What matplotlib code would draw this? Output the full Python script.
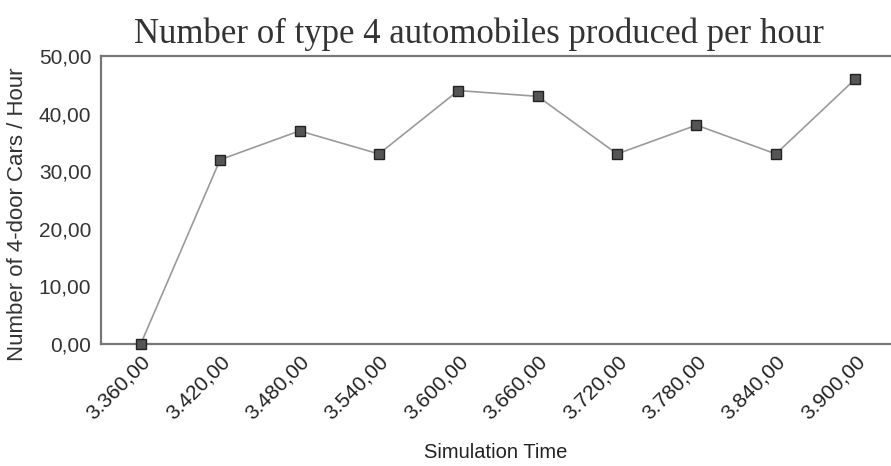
import matplotlib.pyplot as plt

# simulation time (x) and 4-door cars per hour (y)
sim_time = [3360, 3420, 3480, 3540, 3600, 3660, 3720, 3780, 3840, 3900]
cars_per_hour = [0, 32, 37, 33, 44, 43, 33, 38, 33, 46]
x_labels = ["3.360,00", "3.420,00", "3.480,00", "3.540,00", "3.600,00",
            "3.660,00", "3.720,00", "3.780,00", "3.840,00", "3.900,00"]
y_ticks = [0, 10, 20, 30, 40, 50]
y_labels = ["0,00", "10,00", "20,00", "30,00", "40,00", "50,00"]

fig = plt.figure(figsize=(8.91, 4.66), dpi=100)
ax = fig.add_axes([0.1134, 0.2618, 0.8866, 0.618])

ax.plot(sim_time, cars_per_hour, color="#9a9a9a", linewidth=1.2,
        marker="s", markersize=7.5, markerfacecolor="#555555",
        markeredgecolor="#222222", markeredgewidth=1.0, clip_on=False, zorder=3)

ax.set_xlim(3330, 3927)
ax.set_ylim(0, 50)
ax.set_xticks(sim_time)
ax.set_xticklabels(x_labels, rotation=45, ha="right", rotation_mode="anchor",
                   family="Liberation Sans", fontsize=15, color="#222222")
ax.set_yticks(y_ticks)
ax.set_yticklabels(y_labels, family="Liberation Sans", fontsize=15, color="#333333")
ax.tick_params(axis="both", length=0)
ax.tick_params(axis="y", pad=7)
ax.tick_params(axis="x", pad=6)

for side in ["left", "top", "bottom"]:
    ax.spines[side].set_color("#777777")
    ax.spines[side].set_linewidth(1.6)
ax.spines["right"].set_visible(False)

ax.set_ylabel("Number of 4-door Cars / Hour", family="Liberation Sans",
              fontsize=16, color="#333333")
ax.yaxis.set_label_coords(-0.092, 0.45)
ax.set_xlabel("Simulation Time", family="Liberation Sans", fontsize=14.5,
              color="#222222", labelpad=14)

fig.text(0.537, 0.926, "Number of type 4 automobiles produced per hour",
         ha="center", va="center", family="Liberation Serif", fontsize=25,
         color="#333333")

fig.savefig("out.png", dpi=100)
